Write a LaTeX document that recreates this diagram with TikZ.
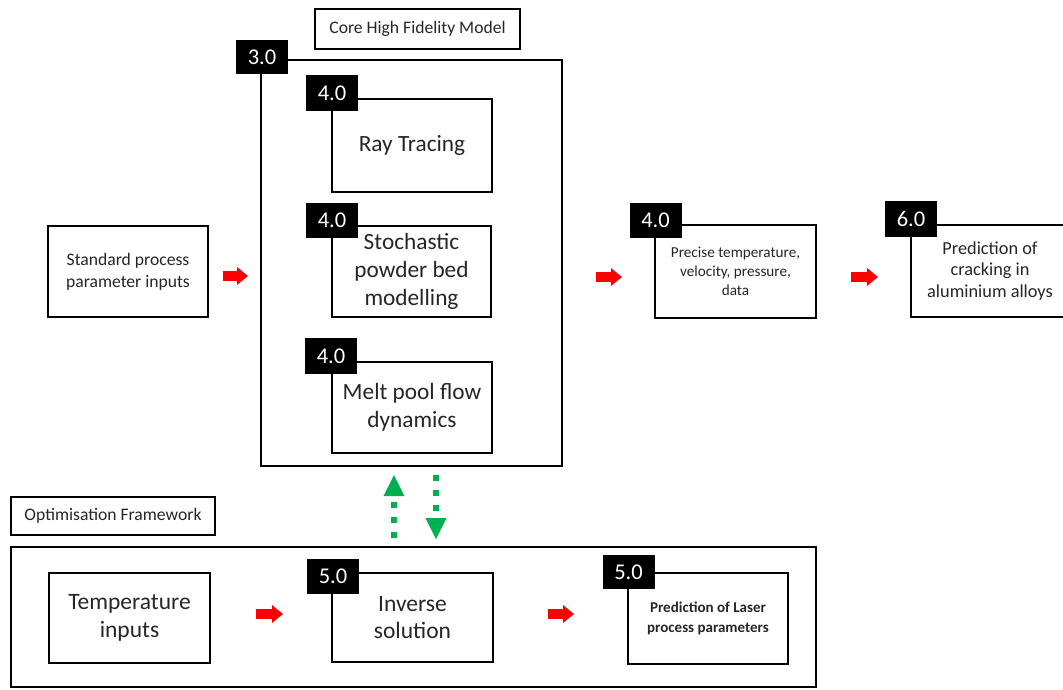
\documentclass[tikz,border=0pt]{standalone}
\usepackage{fontspec}
\setmainfont{Carlito}
\usetikzlibrary{arrows.meta}
\definecolor{arrowred}{RGB}{255,0,0}
\definecolor{optgreen}{RGB}{0,176,80}
\tikzset{
  box/.style={draw=black, line width=2.8pt, fill=white, inner sep=0pt, align=center, text=black!85},
  tag/.style={fill=black, draw=none, text=white, minimum width=52pt, minimum height=35pt, inner sep=0pt, font=\fontsize{22.5}{26}\selectfont},
  bigtxt/.style={font=\fontsize{23.3}{28}\selectfont},
  midtxt/.style={font=\fontsize{17.6}{22}\selectfont},
  redarrow/.style={draw=arrowred, line width=10pt, -{Triangle[length=11pt,width=18pt,line width=0pt]}},
  greenarrow/.style={draw=optgreen, line width=6pt, dash pattern=on 6pt off 9pt, -{Triangle[length=21pt,width=21pt,line width=0pt]}}
}
\begin{document}
\begin{tikzpicture}[x=1pt,y=-1pt]
\useasboundingbox (0,0) rectangle (1063,689);
% captions
\node[box, midtxt, minimum width=205pt, minimum height=40pt] (cap1) at (417.5,29) {Core High Fidelity Model};
\node[box, midtxt, minimum width=204pt, minimum height=38pt] (cap2) at (113,516) {Optimisation Framework};
% container boxes
\node[box, minimum width=301pt, minimum height=406pt] (core) at (411.5,263) {};
\node[box, minimum width=805pt, minimum height=140pt] (opt) at (413.5,617) {};
% inner boxes
\node[box, bigtxt, minimum width=160pt, minimum height=93pt] (ray) at (412,145.5) {\raisebox{-3pt}{Ray Tracing}};
\node[box, bigtxt, minimum width=159pt, minimum height=91pt] (sto) at (411.5,271.5) {Stochastic\\powder bed\\modelling};
\node[box, bigtxt, minimum width=160pt, minimum height=91pt] (melt) at (412,407.5) {Melt pool flow\\dynamics};
\node[box, midtxt, minimum width=160pt, minimum height=91pt] (std) at (128,271.5) {Standard process\\parameter inputs};
\node[box, font=\fontsize{15.2}{19}\selectfont, minimum width=161pt, minimum height=93pt] (prec) at (735.5,271.5) {Precise temperature,\\velocity, pressure,\\data};
\node[box, font=\fontsize{18.3}{21.5}\selectfont, minimum width=158pt, minimum height=92pt] (crack) at (990,271) {Prediction of\\cracking in\\aluminium alloys};
\node[box, font=\fontsize{23.5}{27.5}\selectfont, minimum width=161pt, minimum height=90pt] (temp) at (129.5,618) {Temperature\\inputs};
\node[box, font=\fontsize{23.5}{27.5}\selectfont, minimum width=161pt, minimum height=89pt] (inv) at (412.5,617.5) {Inverse\\solution};
\node[box, font=\bfseries\fontsize{15}{20}\selectfont, minimum width=160pt, minimum height=91pt] (laser) at (708,618.5) {Prediction of Laser\\process parameters};
% tags
\node[tag, minimum height=34pt] (t30) at (262,57) {3.0};
\node[tag, minimum height=36pt] (t41) at (332,93) {4.0};
\node[tag] (t42) at (332,220.5) {4.0};
\node[tag, minimum height=36pt] (t43) at (331,356) {4.0};
\node[tag] (t44) at (655.5,220) {4.0};
\node[tag, minimum height=36pt] (t60) at (911,219) {6.0};
\node[tag] (t51) at (333,576.5) {5.0};
\node[tag, minimum height=34pt] (t52) at (628.5,572) {5.0};
% red block arrows
\coordinate (r1s) at (223,276); \coordinate (r1e) at (248,276);
\coordinate (r2s) at (596,277); \coordinate (r2e) at (622,277);
\coordinate (r3s) at (851,277); \coordinate (r3e) at (878,277);
\coordinate (r4s) at (256,614); \coordinate (r4e) at (283,614);
\coordinate (r5s) at (548,614); \coordinate (r5e) at (574,614);
\draw[redarrow] (r1s) -- (r1e);
\draw[redarrow] (r2s) -- (r2e);
\draw[redarrow] (r3s) -- (r3e);
\draw[redarrow] (r4s) -- (r4e);
\draw[redarrow] (r5s) -- (r5e);
% green dotted arrows
\coordinate (gus) at (394,538); \coordinate (gue) at (394,475);
\coordinate (gds) at (436,475); \coordinate (gde) at (436,539);
\draw[greenarrow] (gus) -- (gue);
\draw[greenarrow] (gds) -- (gde);
\end{tikzpicture}
\end{document}
